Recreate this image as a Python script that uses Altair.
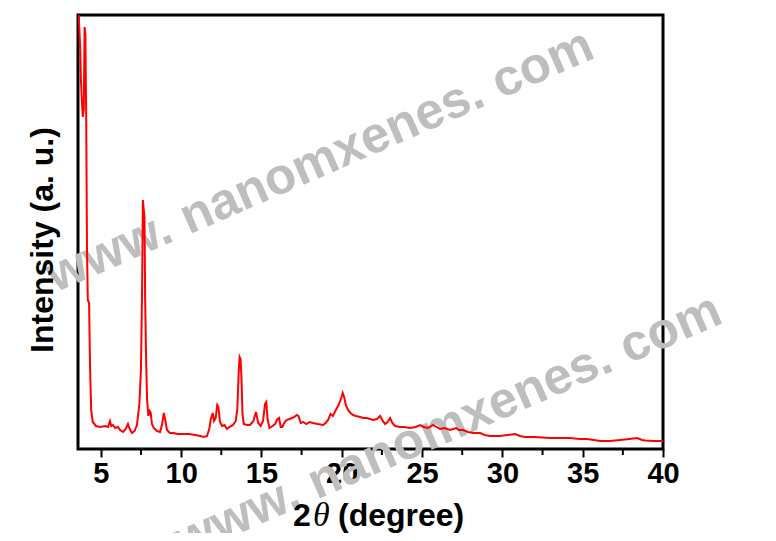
import altair as alt
import pandas as pd

two_theta = [3.58, 3.72, 3.76, 3.82, 3.88, 3.94, 3.99, 4.04, 4.09, 4.14, 4.19, 4.27, 4.33, 4.40, 4.50,
             4.70, 4.95, 5.26, 5.45, 5.57, 5.65, 5.76, 5.90, 6.07, 6.20, 6.38, 6.55, 6.69, 6.80, 6.94,
             7.10, 7.25, 7.40, 7.50, 7.57, 7.62, 7.67, 7.72, 7.76, 7.82, 7.88, 7.96, 8.05, 8.11, 8.18,
             8.30, 8.50, 8.69, 8.82, 8.92, 9.00, 9.12, 9.30, 9.50, 9.80, 10.24, 10.50, 10.87, 11.20, 11.40,
             11.61, 11.75, 11.85, 11.97, 12.05, 12.15, 12.25, 12.32, 12.42, 12.55, 12.70, 12.85, 13.00, 13.23, 13.40,
             13.50, 13.58, 13.64, 13.70, 13.76, 13.82, 13.90, 14.10, 14.29, 14.50, 14.66, 14.80, 14.95, 15.10, 15.22,
             15.30, 15.38, 15.50, 15.70, 15.85, 16.00, 16.10, 16.20, 16.30, 16.45, 16.57, 16.75, 16.90, 17.05, 17.20,
             17.30, 17.45, 17.60, 17.80, 18.00, 18.21, 18.50, 18.84, 19.00, 19.15, 19.30, 19.45, 19.60, 19.80, 19.95,
             20.06, 20.15, 20.25, 20.39, 20.55, 20.70, 20.90, 21.14, 21.35, 21.56, 21.75, 21.95, 22.20, 22.39, 22.55,
             22.70, 22.85, 23.01, 23.15, 23.32, 23.63, 23.90, 24.25, 24.60, 24.87, 25.10, 25.37, 25.68, 25.90, 26.12,
             26.40, 26.74, 27.12, 27.30, 27.55, 27.86, 28.20, 28.61, 28.90, 29.23, 29.86, 30.30, 30.79, 31.10, 31.41,
             32.00, 32.97, 33.50, 34.21, 34.80, 35.27, 35.70, 36.08, 36.70, 37.33, 37.90, 38.39, 38.70, 38.89, 39.40,
             40.00]
intensity = [450, 400, 370, 349, 332, 340, 422, 415, 332, 200, 149, 146, 82, 39, 27,
             23, 22, 23, 22, 28, 23, 24, 21, 22, 19, 17, 20, 25, 20, 16,
             18, 24, 45, 80, 160, 249, 240, 232, 150, 90, 50, 33, 38, 36, 25,
             21, 18, 17, 25, 36, 30, 19, 16, 16, 15, 15, 15, 14, 13, 12,
             13, 20, 30, 36, 28, 31, 44, 42, 27, 23, 24, 20, 22, 24, 28,
             40, 75, 92, 90, 70, 35, 25, 24, 24, 28, 37, 26, 23, 28, 45,
             47, 30, 21, 23, 25, 30, 31, 22, 22, 27, 29, 30, 31, 32, 34,
             33, 26, 27, 25, 27, 26, 25, 24, 26, 29, 35, 33, 38, 44, 50,
             56, 52, 44, 39, 36, 34, 33, 32, 31, 31, 30, 29, 30, 33, 28,
             25, 27, 31, 26, 23, 22, 22, 21, 22, 24, 22, 21, 24, 22, 20,
             21, 19, 21, 19, 19, 17, 16, 16, 14, 13, 13, 14, 15, 13, 12,
             12, 11, 11, 11, 10, 10, 9, 8, 8, 9, 10, 11, 9, 8.5, 8,
             8]

major_ticks = [5, 10, 15, 20, 25, 30, 35, 40]
minor_ticks = [7.5, 12.5, 17.5, 22.5, 27.5, 32.5, 37.5]
watermark_text = "www. nanomxenes. com"
y_title = "Intensity (a. u.)"
x_title_parts = ["2", "\u03b8", "(degree)"]

W, H = 585, 434
FONT = "Liberation Sans"

xscale = alt.Scale(domain=[3.58, 40], nice=False, zero=False)
yscale = alt.Scale(domain=[0, 434], nice=False)

df = pd.DataFrame({"two_theta": two_theta, "intensity": intensity})


def text_layer(s, **kw):
    return alt.Chart(pd.DataFrame({"t": [s]})).mark_text(**kw)


wm_kw = dict(angle=336.5, font=FONT, fontWeight="bold", fontSize=51,
             color="#bebebe", align="center", baseline="alphabetic")
wm1 = text_layer(watermark_text, **wm_kw).encode(x=alt.value(248), y=alt.value(160), text="t:N")
wm2 = text_layer(watermark_text, **wm_kw).encode(x=alt.value(376), y=alt.value(425), text="t:N")

line = alt.Chart(df).mark_line(color="#ff0000", strokeWidth=2, clip=True).encode(
    x=alt.X("two_theta:Q", scale=xscale,
            axis=alt.Axis(values=major_ticks, title=None, grid=False, domain=False,
                          tickSize=8, tickWidth=2, tickColor="black",
                          labelFont=FONT, labelFontWeight="bold", labelFontSize=29,
                          labelColor="black", labelPadding=2, labelFlush=False,
                          labelOverlap=False, format="d")),
    y=alt.Y("intensity:Q", scale=yscale, axis=None),
)

minor = alt.Chart(pd.DataFrame({"m": minor_ticks})).mark_rule(color="black", strokeWidth=2).encode(
    x=alt.X("m:Q", scale=xscale),
    y=alt.value(H + 1), y2=alt.value(H + 6),
)

ytitle = text_layer(y_title, angle=270, font=FONT, fontWeight="bold", fontSize=32,
                    color="black", align="center", baseline="middle").encode(
    x=alt.value(-35), y=alt.value(225), text="t:N")

xt1 = text_layer(x_title_parts[0], font=FONT, fontWeight="bold", fontSize=32, color="black",
                 align="left", baseline="alphabetic").encode(x=alt.value(215), y=alt.value(511), text="t:N")
xt2 = text_layer(x_title_parts[1], font="Liberation Serif", fontStyle="italic", fontSize=34, color="black",
                 align="left", baseline="alphabetic").encode(x=alt.value(235), y=alt.value(511), text="t:N")
xt3 = text_layer(x_title_parts[2], font=FONT, fontWeight="bold", fontSize=32, color="black",
                 align="left", baseline="alphabetic").encode(x=alt.value(260), y=alt.value(511), text="t:N")

chart = alt.layer(wm1, wm2, line, minor, ytitle, xt1, xt2, xt3).properties(
    width=W, height=H,
    autosize=alt.AutoSizeParams(type="none"),
    padding={"left": 70, "top": 7, "right": 105, "bottom": 84},
).configure_view(stroke="black", strokeWidth=3)

chart.save("out.html", embed_options={"renderer": "svg", "actions": False})
